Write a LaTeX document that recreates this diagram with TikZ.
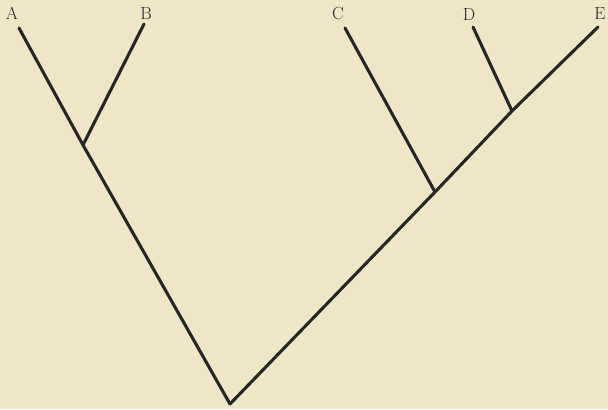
\documentclass[tikz,border=0pt]{standalone}
\tikzset{
  branch/.style={line width=4.4pt, draw=black!85, line cap=round, line join=round},
  taxon/.style={font=\fontsize{25}{28}\selectfont, text=black!85, inner sep=0pt},
}
\definecolor{paper}{HTML}{EEE6C6}

\begin{document}
\begin{tikzpicture}[x=0.05cm, y=-0.05cm]
    \fill[paper] (0,0) rectangle (608,409);
    \useasboundingbox (0,0) rectangle (608,409);
    % junctions
    \coordinate (root) at (230,404);
    \coordinate (ab) at (83,145);
    \coordinate (cde) at (435,192);
    \coordinate (de) at (512,111);
    % tips
    \coordinate (ta) at (19,28);
    \coordinate (tb) at (144,24);
    \coordinate (tc) at (345,28);
    \coordinate (td) at (473,27);
    \coordinate (te) at (598,27);
    % labels
    \node[taxon] (la) at (12,13) {A};
    \node[taxon] (lb) at (146,13) {B};
    \node[taxon] (lc) at (338,13) {C};
    \node[taxon] (ld) at (469,14) {D};
    \node[taxon] (le) at (600,14) {E};
    % branches
    \draw[branch] (root) -- (ab) -- (ta);
    \draw[branch] (ab) -- (tb);
    \draw[branch] (root) -- (cde) -- (de) -- (te);
    \draw[branch] (cde) -- (tc);
    \draw[branch] (de) -- (td);
\end{tikzpicture}
\end{document}
